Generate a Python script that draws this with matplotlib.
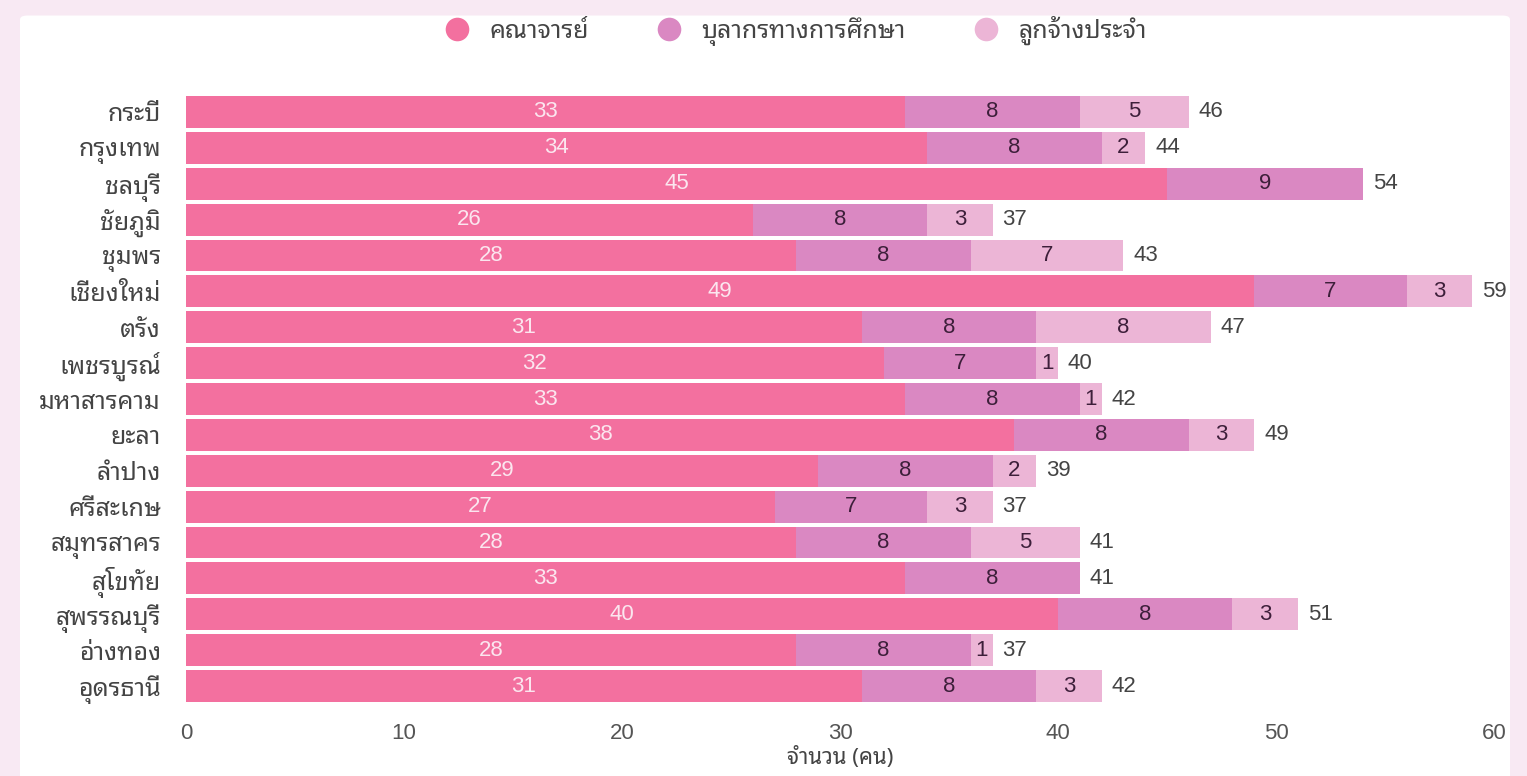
import matplotlib
matplotlib.use("Agg")
import matplotlib.pyplot as plt
from matplotlib.lines import Line2D
from matplotlib.patches import FancyBboxPatch

# ข้อมูล
provinces = ['กระบี่', 'กรุงเทพ', 'ชลบุรี', 'ชัยภูมิ', 'ชุมพร', 'เชียงใหม่', 'ตรัง',
             'เพชรบูรณ์', 'มหาสารคาม', 'ยะลา', 'ลำปาง', 'ศรีสะเกษ', 'สมุทรสาคร',
             'สุโขทัย', 'สุพรรณบุรี', 'อ่างทอง', 'อุดรธานี']
faculty = [33, 34, 45, 26, 28, 49, 31, 32, 33, 38, 29, 27, 28, 33, 40, 28, 31]
support = [8, 8, 9, 8, 8, 7, 8, 7, 8, 8, 8, 7, 8, 8, 8, 8, 8]
employee = [5, 2, 0, 3, 7, 3, 8, 1, 1, 3, 2, 3, 5, 0, 3, 1, 3]
series_names = ['คณาจารย์', 'บุลากรทางการศึกษา', 'ลูกจ้างประจำ']
colors = ['#f3709f', '#da88c2', '#ecb5d6']
x_ticks = [0, 10, 20, 30, 40, 50, 60]

thai = ['Noto Sans Thai Looped', 'DejaVu Sans']
num = ['Liberation Sans', 'DejaVu Sans']

fig = plt.figure(figsize=(15.27, 7.76), dpi=100)
fig.patch.set_facecolor('#f8e9f3')
panel = FancyBboxPatch((20 / 1527, -0.02), 1490 / 1527, 1.0, boxstyle='round,pad=0,rounding_size=0.005',
                       transform=fig.transFigure, facecolor='white', edgecolor='none', zorder=-5)
fig.patches.append(panel)

ax = fig.add_axes([186 / 1527, 1 - 704 / 776, 1308 / 1527, 610 / 776])
ax.set_facecolor('none')
ax.set_zorder(2)

y = list(range(len(provinces)))
left = [0] * len(provinces)
for vals, color in zip([faculty, support, employee], colors):
    ax.barh(y, vals, left=left, height=0.89, color=color, edgecolor='none')
    for i, v in enumerate(vals):
        if v > 0:
            txt_color = '#fbe6ef' if color == colors[0] else '#3d1f3a'
            ax.text(left[i] + v / 2, i, str(v), ha='center', va='center',
                    fontsize=16, color=txt_color, family=num)
    left = [l + v for l, v in zip(left, vals)]

for i, total in enumerate(left):
    ax.text(total + 0.45, i, str(total), ha='left', va='center', fontsize=16,
            color='#444444', family=num)

ax.set_xlim(0, 60)
ax.set_ylim(len(provinces) - 0.5, -0.5)
ax.set_xticks(x_ticks)
ax.set_xticklabels([str(t) for t in x_ticks], family=num, fontsize=16, color='#555555')
ax.set_yticks(y)
ax.set_yticklabels(provinces, family=thai, fontsize=18, color='#444444')
ax.tick_params(axis='x', length=0, pad=14)
ax.tick_params(axis='y', length=0, pad=18)
for s in ax.spines.values():
    s.set_visible(False)
ax.set_xlabel('จำนวน (คน)', family=thai, fontsize=16, color='#444444', labelpad=2)

handles = [Line2D([], [], marker='o', linestyle='none', markersize=17,
                  markerfacecolor=c, markeredgecolor='none') for c in colors]
leg = fig.legend(handles, series_names, loc='center', bbox_to_anchor=(0.517, 0.96),
                 ncol=3, frameon=False, handletextpad=0.3, columnspacing=2.2,
                 prop={'family': thai, 'size': 18})
for t in leg.get_texts():
    t.set_color('#444444')

fig.savefig('out.png', dpi=100, facecolor=fig.get_facecolor())
